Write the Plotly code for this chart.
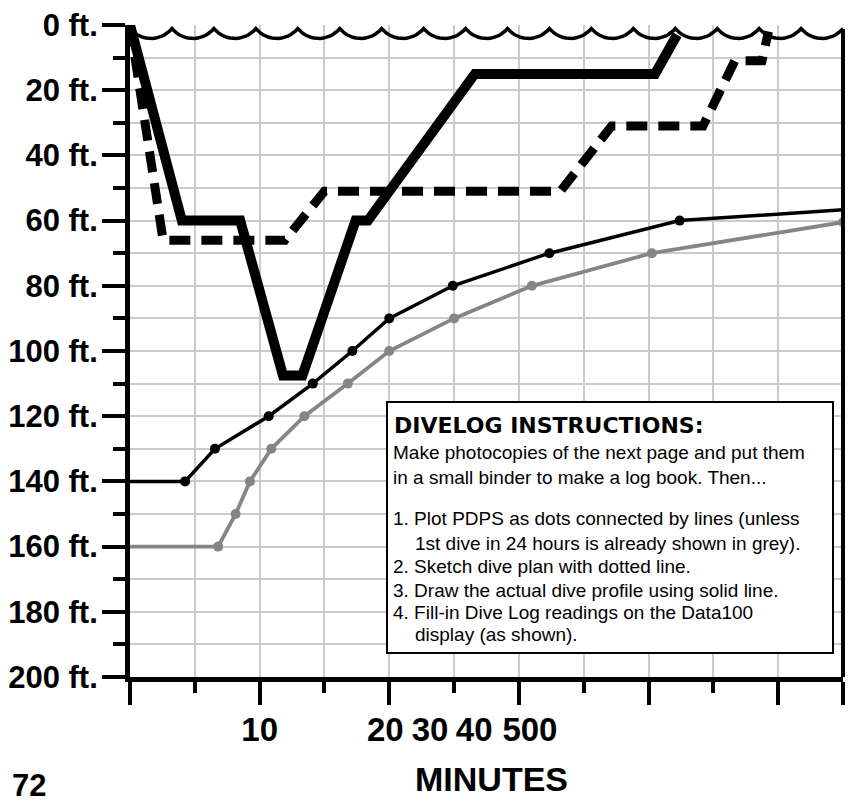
import numpy as np
import plotly.graph_objects as go

# ---------------- data (x in grid units along the MINUTES axis, y in feet) ----------------
profile_min = [0, 0.80, 1.70, 2.36, 2.66, 3.48, 3.67, 5.32, 8.10, 8.44]
profile_ft = [0, 60, 60, 107.5, 107.5, 60, 60, 15, 15, 3]

plan_min = [0, 0.51, 2.39, 3.00, 6.64, 7.43, 8.84, 9.33, 9.75, 9.85]
plan_ft = [0, 66, 66, 51, 51, 31, 31, 11, 11, 2]

pdps_min = [0, 0.85, 1.31, 2.14, 2.82, 3.43, 4.00, 4.98, 6.47, 8.48, 11]
pdps_ft = [140, 140, 130, 120, 110, 100, 90, 80, 70, 60, 56.7]

first_min = [0, 1.36, 1.63, 1.85, 2.18, 2.69, 3.36, 4.00, 5.00, 6.20, 8.05, 11]
first_ft = [160, 160, 150, 140, 130, 120, 110, 100, 90, 80, 70, 60.5]

y_tick_vals = list(range(0, 201, 20))
y_tick_text = [f"{v} ft." for v in y_tick_vals]
y_minor_vals = list(range(10, 200, 20))
x_major_ticks = [0, 2, 4, 6, 8, 10, 11]
x_minor_ticks = [1, 3, 5, 7, 9]
x_label_pos = [2, 3.94, 4.63, 5.31, 6.17]
x_label_text = ["10", "20", "30", "40", "500"]

title_text = "DIVELOG INSTRUCTIONS:"
body_lines = [
    "Make photocopies of the next page and put them",
    "in a small binder to make a log book. Then...",
    "1. Plot PDPS as dots connected by lines (unless",
    "1st dive in 24 hours is already shown in grey).",
    "2. Sketch dive plan with dotted line.",
    "3. Draw the actual dive profile using solid line.",
    "4. Fill-in Dive Log readings on the Data100",
    "display (as shown).",
]

# ---------------- geometry helpers ----------------
W, H = 854, 804
PL, PR, PT, PB = 130, 843, 25, 677
XMAX, YMAX = 11, 200


def px(x):
    return (x - PL) / (PR - PL)


def py(y):
    return (PB - y) / (PB - PT)


GRID = "#cbcbcb"
GREY = "#858585"
BOLD = "Liberation Sans"

# decorative water surface (scalloped line)
n_arcs = 17
P = (PR - PL) / n_arcs
c = P / 2
s = 10.0
R = (c * c + s * s) / (2 * s)
half = np.arcsin(c / R)
wx, wy = [], []
for k in range(n_arcs):
    cx = PL + k * P + c
    cy = 38.5 - R
    th = np.linspace(-half, half, 16)
    wx.extend(cx + R * np.sin(th))
    wy.extend(cy + R * np.cos(th))
wave_x = (np.array(wx) - PL) / (PR - PL) * XMAX
wave_y = (np.array(wy) - PT) / (PB - PT) * YMAX

fig = go.Figure()

# first dive (grey)
fig.add_trace(go.Scatter(x=first_min, y=first_ft, mode="lines",
                         line=dict(color=GREY, width=3.8), hoverinfo="skip"))
fig.add_trace(go.Scatter(x=first_min[1:], y=first_ft[1:], mode="markers",
                         marker=dict(color=GREY, size=10), hoverinfo="skip"))
# PDPS (black thin)
fig.add_trace(go.Scatter(x=pdps_min, y=pdps_ft, mode="lines",
                         line=dict(color="black", width=3.5), hoverinfo="skip"))
fig.add_trace(go.Scatter(x=pdps_min[1:-1], y=pdps_ft[1:-1], mode="markers",
                         marker=dict(color="black", size=10), hoverinfo="skip"))
# dive plan (dashed)
fig.add_trace(go.Scatter(x=plan_min, y=plan_ft, mode="lines",
                         line=dict(color="black", width=9, dash="21px,11px"),
                         hoverinfo="skip"))
# actual profile (solid thick)
fig.add_trace(go.Scatter(x=profile_min, y=profile_ft, mode="lines",
                         line=dict(color="black", width=10), hoverinfo="skip"))
# water surface
fig.add_trace(go.Scatter(x=wave_x, y=wave_y, mode="lines",
                         line=dict(color="black", width=3.5), hoverinfo="skip"))
# invisible trace carrying the label axis
fig.add_trace(go.Scatter(x=[0], y=[0], xaxis="x2", mode="markers",
                         marker=dict(opacity=0), hoverinfo="skip"))

fig.update_layout(
    width=W, height=H,
    margin=dict(l=PL, r=W - PR, t=PT, b=H - PB, autoexpand=False),
    paper_bgcolor="white", plot_bgcolor="white",
    showlegend=False,
    xaxis=dict(
        range=[0, XMAX], tickmode="array", tickvals=x_major_ticks,
        showticklabels=False, ticks="outside", ticklen=23, tickwidth=4,
        tickcolor="black", showline=True, linewidth=5, linecolor="black",
        showgrid=True, gridcolor=GRID, gridwidth=1.5, zeroline=False,
        automargin=False,
        minor=dict(tickmode="array", tickvals=x_minor_ticks, ticks="outside",
                   ticklen=11, tickwidth=4, tickcolor="black",
                   showgrid=True, gridcolor=GRID, gridwidth=1.5),
    ),
    xaxis2=dict(
        range=[0, XMAX], overlaying="x", anchor="y", side="bottom",
        tickmode="array", tickvals=x_label_pos, ticktext=x_label_text,
        ticks="", showline=False, showgrid=False, zeroline=False,
        ticklabelstandoff=30, automargin=False,
        tickfont=dict(family=BOLD, size=33, color="black", weight="bold"),
    ),
    yaxis=dict(
        range=[YMAX, 0], tickmode="array", tickvals=y_tick_vals,
        ticktext=y_tick_text, ticks="outside", ticklen=23, tickwidth=4,
        tickcolor="black", showline=True, linewidth=5, linecolor="black",
        showgrid=True, gridcolor=GRID, gridwidth=1.5, zeroline=False,
        ticklabelstandoff=-2, automargin=False,
        tickfont=dict(family=BOLD, size=31, color="black", weight="bold"),
        minor=dict(tickmode="array", tickvals=y_minor_vals, ticks="outside",
                   ticklen=12, tickwidth=4, tickcolor="black",
                   showgrid=True, gridcolor=GRID, gridwidth=1.5),
    ),
)

shapes = [
    # right border
    dict(type="line", xref="paper", yref="paper", x0=1, x1=1, y0=0, y1=py(29),
         line=dict(color="black", width=4), layer="above"),
    # instructions box
    dict(type="rect", xref="paper", yref="paper", x0=px(387), x1=px(833),
         y0=py(653), y1=py(402), fillcolor="white",
         line=dict(color="black", width=2), layer="above"),
]
fig.update_layout(shapes=shapes)

ann = []
ann.append(dict(xref="paper", yref="paper", x=px(392), y=py(425), xanchor="left",
                yanchor="middle", showarrow=False, text=title_text,
                font=dict(family="DejaVu Sans", size=22, color="black", weight="bold")))
line_y = [452, 477, 518, 543, 566, 590, 612, 634]
line_x = [391, 391, 391, 413, 391, 391, 391, 413]
for t, yy, xx in zip(body_lines, line_y, line_x):
    ann.append(dict(xref="paper", yref="paper", x=px(xx), y=py(yy), xanchor="left",
                    yanchor="middle", showarrow=False, text=t,
                    font=dict(family=BOLD, size=19, color="black")))
ann.append(dict(xref="paper", yref="paper", x=px(491), y=py(779), xanchor="center",
                yanchor="middle", showarrow=False, text="MINUTES",
                font=dict(family=BOLD, size=34, color="black", weight="bold")))
ann.append(dict(xref="paper", yref="paper", x=px(10), y=py(785), xanchor="left",
                yanchor="middle", showarrow=False, text="72",
                font=dict(family=BOLD, size=31, color="black", weight="bold")))
fig.update_layout(annotations=ann)

fig.write_html("out.html")
